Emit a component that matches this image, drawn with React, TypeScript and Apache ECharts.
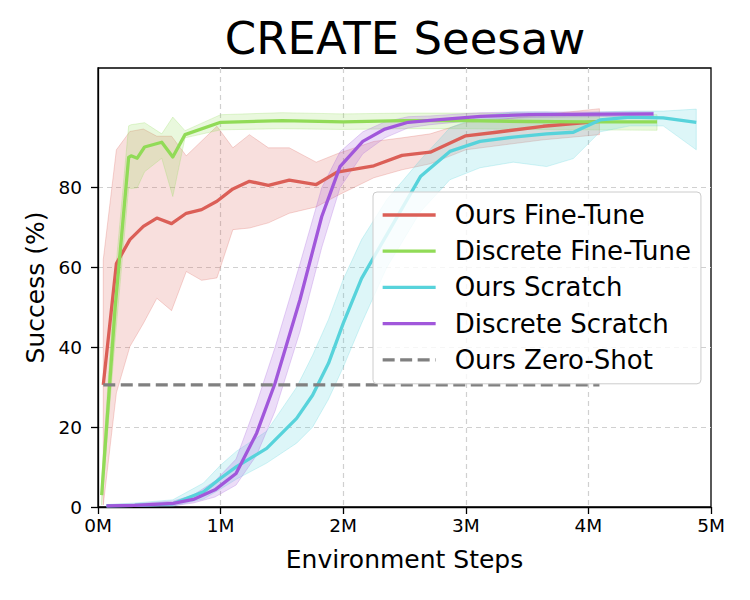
import React, { useEffect, useRef } from "react";
import * as echarts from "echarts";

const FONT = "DejaVu Sans";

const titleText = "CREATE Seesaw";
const xAxisName = "Environment Steps";
const yAxisName = "Success (%)";
const yTickValues = [0, 20, 40, 60, 80];

const seriesNames = ["Ours Fine-Tune", "Discrete Fine-Tune", "Ours Scratch", "Discrete Scratch", "Ours Zero-Shot"];
const seriesColors = ["#db5f57", "#91db57", "#57d3db", "#a157db", "#808080"];

// Ours Fine-Tune
const oursFtX = [0.043, 0.15, 0.26, 0.37, 0.48, 0.6, 0.72, 0.845, 0.97, 1.1, 1.235, 1.39, 1.56, 1.78, 1.95, 2.25, 2.48, 2.71, 3.0, 3.25, 3.63, 4.09];
const oursFtMean = [30.6, 61, 67, 70.3, 72.4, 71, 73.6, 74.5, 76.6, 79.7, 81.6, 80.6, 81.9, 80.8, 83.9, 85.5, 88.1, 88.9, 93, 93.9, 95.4, 96.6];
const oursFtLow = [0.5, 28.6, 40.2, 46, 52.3, 49.2, 59, 56.8, 57.4, 69.5, 69.9, 71.2, 73.6, 75.2, 78, 82.5, 84.5, 86, 89.5, 90.5, 92, 93.3];
const oursFtHigh = [62, 89.5, 94.1, 94.7, 92.9, 92.9, 88, 91.7, 95.4, 90, 93.3, 90, 90, 86.4, 88.5, 91.6, 92.5, 93.5, 96.3, 97, 98.3, 99.8];

// Discrete Fine-Tune
const discFtX = [0.03, 0.14, 0.25, 0.27, 0.32, 0.38, 0.52, 0.61, 0.71, 1.0, 1.5, 2.0, 2.5, 3.0, 3.5, 4.0, 4.56];
const discFtMean = [3, 50, 87.6, 88, 87.4, 90.2, 91.4, 87.7, 93.3, 96.4, 96.8, 96.5, 96.8, 96.8, 96.6, 96.5, 96.5];
const discFtLow = [0.5, 42, 80, 79.8, 80, 84, 87.4, 77.8, 92.5, 94.5, 94.8, 94.6, 94.8, 94.8, 94.6, 94.5, 94.4];
const discFtHigh = [7, 58, 95.5, 95.8, 96, 96.3, 93.5, 97.7, 94.3, 98.3, 98.8, 98.5, 98.7, 98.7, 98.6, 98.4, 98.3];

// Ours Scratch
const oursScX = [0.07, 0.3, 0.61, 0.86, 1.0, 1.13, 1.376, 1.62, 1.75, 1.88, 2.0, 2.15, 2.355, 2.63, 2.87, 3.116, 3.387, 3.66, 3.877, 4.095, 4.34, 4.61, 4.88];
const oursScMean = [0.3, 0.4, 0.8, 3.8, 7.2, 10.1, 14.7, 22.2, 28, 36, 46, 57.3, 68.2, 82.8, 89.1, 91.6, 92.7, 93.5, 93.9, 97, 97.7, 97.5, 96.4];
const oursScLow = [0, 0, 0.2, 2, 4.5, 7, 11, 16, 20, 27, 35, 46, 60, 74, 82, 85, 86.4, 85.3, 87.3, 94, 95.5, 95.5, 89.5];
const oursScHigh = [0.6, 1, 1.8, 6, 10.5, 14, 19, 30, 38, 47, 57, 67, 77, 87, 95, 98, 99, 99, 98.5, 99, 99.2, 99.2, 99.7];

// Discrete Scratch
const discScX = [0.07, 0.3, 0.614, 0.777, 0.954, 1.126, 1.294, 1.444, 1.648, 1.825, 1.974, 2.16, 2.34, 2.53, 2.71, 3.12, 3.52, 4.53];
const discScMean = [0.3, 0.4, 0.9, 1.9, 4.3, 8.4, 18.5, 31, 52, 72.8, 85.3, 91.6, 94.7, 96.4, 96.9, 97.9, 98.3, 98.5];
const discScLow = [0, 0, 0.3, 1, 2.5, 5.5, 13, 24, 44, 65, 80, 88.5, 92.5, 95, 95.8, 97, 97.6, 98];
const discScHigh = [0.6, 0.8, 1.5, 3, 6.5, 12, 26, 40, 61, 80, 89, 94, 96.5, 97.8, 98, 98.8, 99, 99];

// Ours Zero-Shot
const zeroShotX = [0.043, 4.09];
const zeroShotMean = [30.6, 30.6];

function rgba(hex: string, a: number) {
  const r = parseInt(hex.slice(1, 3), 16);
  const g = parseInt(hex.slice(3, 5), 16);
  const b = parseInt(hex.slice(5, 7), 16);
  return `rgba(${r},${g},${b},${a})`;
}

function bandSeries(name: string, xs: number[], lo: number[], hi: number[], color: string) {
  return {
    type: "custom",
    name: name + " band",
    silent: true,
    z: 1,
    clip: true,
    data: [[xs[0], lo[0]]],
    encode: { x: 0, y: 1 },
    renderItem: (_params: any, api: any) => {
      const pts: number[][] = [];
      for (let i = 0; i < xs.length; i++) pts.push(api.coord([xs[i], hi[i]]));
      for (let i = xs.length - 1; i >= 0; i--) pts.push(api.coord([xs[i], lo[i]]));
      return {
        type: "polygon",
        shape: { points: pts },
        style: { fill: rgba(color, 0.2), stroke: rgba(color, 0.25), lineWidth: 1 },
      };
    },
  };
}

function lineSeries(name: string, xs: number[], ys: number[], color: string, dashed = false) {
  return {
    type: "line",
    name,
    z: 3,
    symbol: "none",
    showSymbol: false,
    data: xs.map((x, i) => [x, ys[i]]),
    itemStyle: { color },
    lineStyle: { color, width: 3.3, type: dashed ? [12, 5.5] : "solid", join: "round", cap: "butt" },
  };
}

export default function App() {
  const ref = useRef<HTMLDivElement>(null);
  useEffect(() => {
    if (!ref.current) return;
    const chart = echarts.init(ref.current, undefined, { renderer: "svg" });
    const gridLine = { show: true, lineStyle: { color: "#d0d0d0", width: 1.2, type: [5, 4] } };
    chart.setOption({
      animation: false,
      backgroundColor: "#ffffff",
      textStyle: { fontFamily: FONT },
      title: {
        text: titleText,
        left: 400,
        textAlign: "center",
        top: 11,
        textStyle: { fontFamily: FONT, fontSize: 45, fontWeight: "normal", color: "#000" },
      },
      grid: {
        left: 98, right: 39, top: 68, bottom: 93,
        show: true, borderColor: "#000", borderWidth: 1.3, backgroundColor: "transparent",
      },
      legend: {
        data: seriesNames,
        orient: "vertical",
        left: 373,
        top: 192,
        padding: [10, 10, 11, 8],
        itemWidth: 53,
        itemHeight: 14,
        itemGap: 10.2,
        backgroundColor: "rgba(255,255,255,0.8)",
        borderColor: "#cccccc",
        borderWidth: 1,
        borderRadius: 4,
        itemStyle: { opacity: 0 },
        lineStyle: { width: 3.3 },
        textStyle: { fontFamily: FONT, fontSize: 26, color: "#000", lineHeight: 24, padding: [0, 0, 0, 14] },
      },
      xAxis: {
        type: "value",
        min: 0, max: 5, interval: 1,
        name: xAxisName,
        nameLocation: "middle",
        nameGap: 40,
        nameTextStyle: { fontFamily: FONT, fontSize: 25, color: "#000" },
        axisLine: { show: true, lineStyle: { color: "#000", width: 1.3 } },
        axisTick: { show: true, length: 7, lineStyle: { color: "#000", width: 1.3 } },
        axisLabel: { color: "#000", fontSize: 18.5, fontFamily: FONT, margin: 9, formatter: (v: number) => `${v}M` },
        splitLine: { ...gridLine, showMinLine: false, showMaxLine: false },
      },
      yAxis: {
        type: "value",
        min: 0, max: 110,
        name: yAxisName,
        nameLocation: "middle",
        nameGap: 48,
        nameTextStyle: { fontFamily: FONT, fontSize: 25, color: "#000" },
        axisLine: { show: true, lineStyle: { color: "#000", width: 1.3 } },
        axisTick: { show: true, length: 7, lineStyle: { color: "#000", width: 1.3 }, customValues: yTickValues },
        axisLabel: { color: "#000", fontSize: 18.5, fontFamily: FONT, margin: 16, customValues: yTickValues },
        splitLine: { ...gridLine, showMinLine: false },
      },
      series: [
        bandSeries(seriesNames[0], oursFtX, oursFtLow, oursFtHigh, seriesColors[0]),
        bandSeries(seriesNames[1], discFtX, discFtLow, discFtHigh, seriesColors[1]),
        bandSeries(seriesNames[2], oursScX, oursScLow, oursScHigh, seriesColors[2]),
        bandSeries(seriesNames[3], discScX, discScLow, discScHigh, seriesColors[3]),
        lineSeries(seriesNames[0], oursFtX, oursFtMean, seriesColors[0]),
        lineSeries(seriesNames[1], discFtX, discFtMean, seriesColors[1]),
        lineSeries(seriesNames[2], oursScX, oursScMean, seriesColors[2]),
        lineSeries(seriesNames[3], discScX, discScMean, seriesColors[3]),
        lineSeries(seriesNames[4], zeroShotX, zeroShotMean, seriesColors[4], true),
      ],
    });
    return () => chart.dispose();
  }, []);
  return (
    <div
      ref={ref}
      style={{ position: "fixed", left: 0, top: 0, width: 750, height: 600, background: "#fff" }}
    />
  );
}
